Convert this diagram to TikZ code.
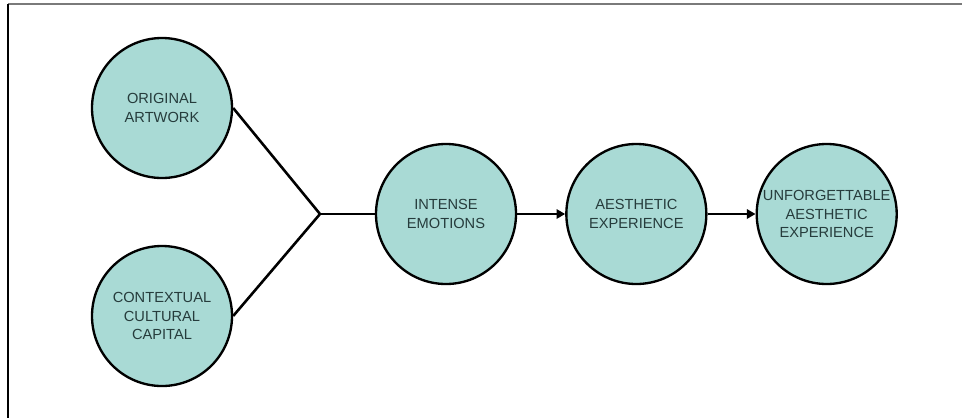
\documentclass[tikz,border=0pt]{standalone}
\usepackage{fontspec}
\setmainfont{Liberation Sans}
\usepackage{tikz}
\usetikzlibrary{arrows.meta, positioning}
\definecolor{tealfill}{HTML}{A9DAD5}
\definecolor{tealtext}{HTML}{263C3C}
\definecolor{framegray}{HTML}{7A7A7A}

\begin{document}
\begin{tikzpicture}[
  x=0.03cm, y=-0.03cm,
  node distance=1.44cm and 1.44cm,
  bubble/.style={circle, draw=black, fill=tealfill, minimum size=4.2cm, inner sep=0pt, align=center, font=\fontsize{12.5}{15.5}\selectfont, text=tealtext, line width=2pt},
  link/.style={black, line width=2.2pt},
  arrow/.style={-{Triangle[length=2.6mm, width=2.8mm]}, black, line width=2.2pt}
]
\useasboundingbox (0,0) rectangle (962,418);
\draw[framegray, line width=1.2pt] (8,4) -- (962,4);
\draw[black, line width=0.9pt] (8,4) -- (8,418);

\node[bubble] (orig) at (162,108) {ORIGINAL\\ARTWORK};
\node[bubble] (ctx) at (162,316) {CONTEXTUAL\\CULTURAL\\CAPITAL};
\coordinate (join) at (320,214);
\node[bubble] (intense) at (446,214) {INTENSE\\EMOTIONS};
\node[bubble, right=of intense] (aesth) {AESTHETIC\\EXPERIENCE};
\node[bubble, right=of aesth] (unforg) {UNFORGETTABLE\\AESTHETIC\\EXPERIENCE};

\draw[link] (orig.east) -- (join);
\draw[link] (ctx.east) -- (join);
\draw[link] (join) -- (intense.west);
\draw[arrow] (intense) -- (aesth);
\draw[arrow] (aesth) -- (unforg);
\end{tikzpicture}
\end{document}
